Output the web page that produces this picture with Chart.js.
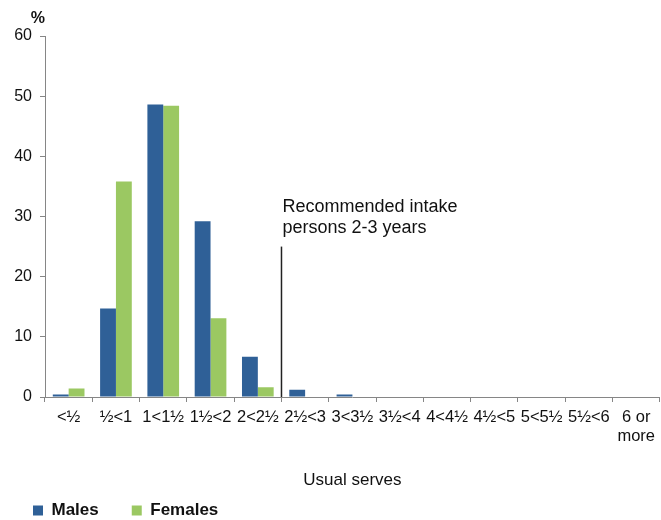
<!DOCTYPE html>
<html>
<head>
<meta charset="utf-8">
<script src="https://cdn.jsdelivr.net/npm/chart.js@4.4.1/dist/chart.umd.min.js"></script>
<style>
  html, body { margin: 0; padding: 0; background: #fff; overflow: hidden; }
  #wrap { width: 661px; height: 520px; }
</style>
</head>
<body>
<div id="wrap"><canvas id="serves"></canvas></div>
<script>
const categories = ["<½", "½<1", "1<1½", "1½<2", "2<2½", "2½<3", "3<3½", "3½<4",
  "4<4½", "4½<5", "5<5½", "5½<6", ["6 or", "more"]];
const males   = [0.4, 14.7, 48.6, 29.2, 6.7, 1.2, 0.4, 0, 0, 0, 0, 0, 0];
const females = [1.4, 35.8, 48.4, 13.1, 1.6, 0, 0, 0, 0, 0, 0, 0, 0];

// recommended intake marker: sits between "2<2½" and "2½<3", reaches up to 25%
const markerAfter = 4;
const markerTop = 25;
const markerText = ["Recommended intake", "persons 2-3 years"];

const axisGrey = "#868686";
const sans = "'Liberation Sans', Arial, sans-serif";

const markerPlugin = {
  id: "marker",
  afterDatasetsDraw(chart) {
    const ctx = chart.ctx;
    const x = chart.scales.x;
    const y = chart.scales.y;
    const px = (x.getPixelForValue(markerAfter) + x.getPixelForValue(markerAfter + 1)) / 2;
    const top = y.getPixelForValue(markerTop);
    ctx.save();
    ctx.strokeStyle = "#222";
    ctx.lineWidth = 1.5;
    ctx.beginPath();
    ctx.moveTo(px, top);
    ctx.lineTo(px, y.getPixelForValue(0));
    ctx.stroke();
    ctx.fillStyle = "#111";
    ctx.font = "18px " + sans;
    ctx.textAlign = "left";
    ctx.textBaseline = "alphabetic";
    ctx.fillText(markerText[0], px + 1, top - 35);
    ctx.fillText(markerText[1], px + 1, top - 14);
    // unit label above the y axis
    ctx.textAlign = "right";
    ctx.font = "bold 16px " + sans;
    ctx.fillText("%", y.right, y.top - 13.5);
    ctx.restore();
  }
};

const chart = new Chart("serves", {
  type: "bar",
  data: {
    labels: categories,
    datasets: [
      {
        label: "Males",
        data: males,
        backgroundColor: "#2F6097",
      },
      {
        label: "Females",
        data: females,
        backgroundColor: "#9BC862",
      },
    ],
  },
  options: {
    responsive: true,
    maintainAspectRatio: false,
    animation: false,
    layout: {
      padding: { top: 36, left: 0, right: 0, bottom: -9 },
    },
    datasets: {
      bar: {
        categoryPercentage: 0.67,
        barPercentage: 1.0,
      },
    },
    plugins: {
      tooltip: { enabled: false },
      legend: {
        position: "bottom",
        align: "start",
        labels: {
          boxWidth: 10,
          boxHeight: 10,
          padding: 33,
          color: "#111",
          font: { family: sans, size: 17, weight: "bold" },
        },
        onClick() {},
      },
    },
    scales: {
      x: {
        offset: true,
        grid: {
          offset: true,
          drawOnChartArea: false,
          drawTicks: true,
          tickLength: 5,
          color: axisGrey,
        },
        border: { color: axisGrey, width: 1 },
        ticks: {
          autoSkip: false,
          maxRotation: 0,
          minRotation: 0,
          padding: 6,
          color: "#111",
          font: { family: sans, size: 16.5, lineHeight: 1.15 },
        },
        title: {
          display: true,
          text: "Usual serves",
          color: "#111",
          font: { family: sans, size: 17 },
          padding: { top: 0, bottom: -22 },
        },
        afterFit(scale) {
          scale.height = 72;
        },
      },
      y: {
        min: 0,
        max: 60,
        ticks: {
          stepSize: 10,
          padding: 8,
          color: "#111",
          font: { family: sans, size: 16 },
        },
        grid: {
          drawOnChartArea: false,
          drawTicks: true,
          tickLength: 5,
          color: axisGrey,
        },
        border: { color: axisGrey, width: 1 },
        afterFit(scale) {
          scale.width = 45;
        },
      },
    },
  },
  plugins: [markerPlugin],
});
</script>
</body>
</html>
